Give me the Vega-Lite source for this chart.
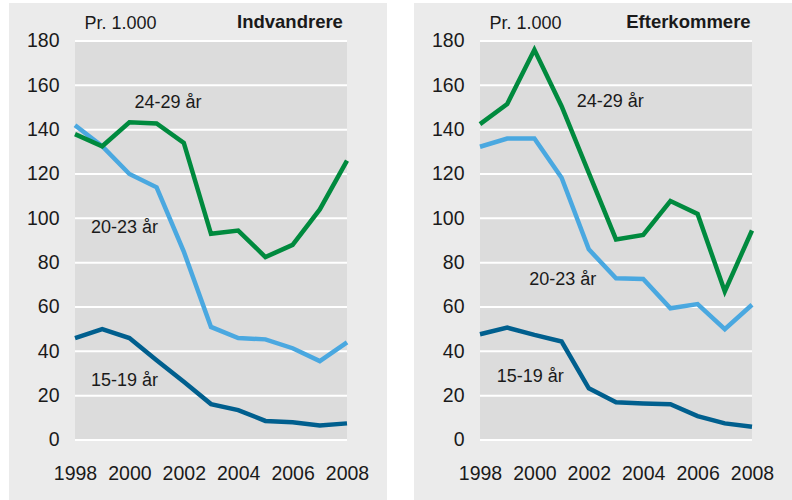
{
  "$schema": "https://vega.github.io/schema/vega-lite/v6.json",
  "background": "white",
  "padding": {"left": 9, "top": 3, "right": 0, "bottom": 0},
  "spacing": 27,
  "config": {
    "view": {"fill": "#ebebeb", "stroke": null},
    "font": "Liberation Sans",
    "text": {"color": "#1a1a1a"}
  },
  "datasets": {
    "gridlines": [
      {"value": 0}, {"value": 20}, {"value": 40}, {"value": 60}, {"value": 80},
      {"value": 100}, {"value": 120}, {"value": 140}, {"value": 160}, {"value": 180}
    ],
    "rates": [
      {"panel": "Indvandrere", "series": "15-19 år", "year": 1998, "value": 46},
      {"panel": "Indvandrere", "series": "15-19 år", "year": 1999, "value": 50},
      {"panel": "Indvandrere", "series": "15-19 år", "year": 2000, "value": 46},
      {"panel": "Indvandrere", "series": "15-19 år", "year": 2001, "value": 36},
      {"panel": "Indvandrere", "series": "15-19 år", "year": 2002, "value": 26.3},
      {"panel": "Indvandrere", "series": "15-19 år", "year": 2003, "value": 16.2},
      {"panel": "Indvandrere", "series": "15-19 år", "year": 2004, "value": 13.5},
      {"panel": "Indvandrere", "series": "15-19 år", "year": 2005, "value": 8.6},
      {"panel": "Indvandrere", "series": "15-19 år", "year": 2006, "value": 8},
      {"panel": "Indvandrere", "series": "15-19 år", "year": 2007, "value": 6.5},
      {"panel": "Indvandrere", "series": "15-19 år", "year": 2008, "value": 7.5},
      {"panel": "Indvandrere", "series": "20-23 år", "year": 1998, "value": 142},
      {"panel": "Indvandrere", "series": "20-23 år", "year": 1999, "value": 132.5},
      {"panel": "Indvandrere", "series": "20-23 år", "year": 2000, "value": 120},
      {"panel": "Indvandrere", "series": "20-23 år", "year": 2001, "value": 114},
      {"panel": "Indvandrere", "series": "20-23 år", "year": 2002, "value": 85},
      {"panel": "Indvandrere", "series": "20-23 år", "year": 2003, "value": 51},
      {"panel": "Indvandrere", "series": "20-23 år", "year": 2004, "value": 46},
      {"panel": "Indvandrere", "series": "20-23 år", "year": 2005, "value": 45.4},
      {"panel": "Indvandrere", "series": "20-23 år", "year": 2006, "value": 41.4},
      {"panel": "Indvandrere", "series": "20-23 år", "year": 2007, "value": 35.6},
      {"panel": "Indvandrere", "series": "20-23 år", "year": 2008, "value": 44},
      {"panel": "Indvandrere", "series": "24-29 år", "year": 1998, "value": 138},
      {"panel": "Indvandrere", "series": "24-29 år", "year": 1999, "value": 132.5},
      {"panel": "Indvandrere", "series": "24-29 år", "year": 2000, "value": 143.3},
      {"panel": "Indvandrere", "series": "24-29 år", "year": 2001, "value": 142.8},
      {"panel": "Indvandrere", "series": "24-29 år", "year": 2002, "value": 134},
      {"panel": "Indvandrere", "series": "24-29 år", "year": 2003, "value": 93},
      {"panel": "Indvandrere", "series": "24-29 år", "year": 2004, "value": 94.5},
      {"panel": "Indvandrere", "series": "24-29 år", "year": 2005, "value": 82.5},
      {"panel": "Indvandrere", "series": "24-29 år", "year": 2006, "value": 88},
      {"panel": "Indvandrere", "series": "24-29 år", "year": 2007, "value": 104},
      {"panel": "Indvandrere", "series": "24-29 år", "year": 2008, "value": 126},
      {"panel": "Efterkommere", "series": "15-19 år", "year": 1998, "value": 47.7},
      {"panel": "Efterkommere", "series": "15-19 år", "year": 1999, "value": 50.7},
      {"panel": "Efterkommere", "series": "15-19 år", "year": 2000, "value": 47.4},
      {"panel": "Efterkommere", "series": "15-19 år", "year": 2001, "value": 44.4},
      {"panel": "Efterkommere", "series": "15-19 år", "year": 2002, "value": 23.3},
      {"panel": "Efterkommere", "series": "15-19 år", "year": 2003, "value": 17},
      {"panel": "Efterkommere", "series": "15-19 år", "year": 2004, "value": 16.5},
      {"panel": "Efterkommere", "series": "15-19 år", "year": 2005, "value": 16.1},
      {"panel": "Efterkommere", "series": "15-19 år", "year": 2006, "value": 10.8},
      {"panel": "Efterkommere", "series": "15-19 år", "year": 2007, "value": 7.5},
      {"panel": "Efterkommere", "series": "15-19 år", "year": 2008, "value": 6},
      {"panel": "Efterkommere", "series": "20-23 år", "year": 1998, "value": 132.3},
      {"panel": "Efterkommere", "series": "20-23 år", "year": 1999, "value": 136},
      {"panel": "Efterkommere", "series": "20-23 år", "year": 2000, "value": 136},
      {"panel": "Efterkommere", "series": "20-23 år", "year": 2001, "value": 118.3},
      {"panel": "Efterkommere", "series": "20-23 år", "year": 2002, "value": 86},
      {"panel": "Efterkommere", "series": "20-23 år", "year": 2003, "value": 73},
      {"panel": "Efterkommere", "series": "20-23 år", "year": 2004, "value": 72.6},
      {"panel": "Efterkommere", "series": "20-23 år", "year": 2005, "value": 59.4},
      {"panel": "Efterkommere", "series": "20-23 år", "year": 2006, "value": 61.3},
      {"panel": "Efterkommere", "series": "20-23 år", "year": 2007, "value": 50},
      {"panel": "Efterkommere", "series": "20-23 år", "year": 2008, "value": 61},
      {"panel": "Efterkommere", "series": "24-29 år", "year": 1998, "value": 142.5},
      {"panel": "Efterkommere", "series": "24-29 år", "year": 1999, "value": 151.6},
      {"panel": "Efterkommere", "series": "24-29 år", "year": 2000, "value": 176},
      {"panel": "Efterkommere", "series": "24-29 år", "year": 2001, "value": 150.6},
      {"panel": "Efterkommere", "series": "24-29 år", "year": 2002, "value": 120.5},
      {"panel": "Efterkommere", "series": "24-29 år", "year": 2003, "value": 90.5},
      {"panel": "Efterkommere", "series": "24-29 år", "year": 2004, "value": 92.5},
      {"panel": "Efterkommere", "series": "24-29 år", "year": 2005, "value": 107.8},
      {"panel": "Efterkommere", "series": "24-29 år", "year": 2006, "value": 102},
      {"panel": "Efterkommere", "series": "24-29 år", "year": 2007, "value": 67},
      {"panel": "Efterkommere", "series": "24-29 år", "year": 2008, "value": 94.5}
    ],
    "labels": [
      {"panel": "Indvandrere", "label": "24-29 år", "x": 2001.42, "y": 152},
      {"panel": "Indvandrere", "label": "20-23 år", "x": 1999.82, "y": 95.6},
      {"panel": "Indvandrere", "label": "15-19 år", "x": 1999.82, "y": 26.8},
      {"panel": "Efterkommere", "label": "24-29 år", "x": 2002.79, "y": 152.6},
      {"panel": "Efterkommere", "label": "20-23 år", "x": 2001.04, "y": 72.2},
      {"panel": "Efterkommere", "label": "15-19 år", "x": 1999.85, "y": 28.6}
    ]
  },
  "hconcat": [
    {
      "width": 378,
      "height": 497,
      "layer": [
        {
          "data": {"values": [{}]},
          "mark": {"type": "rect", "fill": "#dcdcdc"},
          "encoding": {
            "x": {"datum": 1998, "type": "quantitative", "title": null,
              "scale": {"domain": [1995.5735, 2009.4706], "nice": false, "zero": false},
              "axis": {"values": [1998, 2000, 2002, 2004, 2006, 2008], "format": "d", "domain": false, "ticks": false, "tickSize": 0, "grid": false, "labelFont": "Liberation Sans", "labelFontSize": 19.5, "labelColor": "#1a1a1a", "labelPadding": 0, "offset": -36}},
            "x2": {"datum": 2008},
            "y": {"datum": 0, "type": "quantitative", "title": "Pr. 1.000",
              "scale": {"domain": [-27.07, 197.14], "nice": false, "zero": false},
              "axis": {"values": [0, 20, 40, 60, 80, 100, 120, 140, 160, 180], "domain": false, "ticks": false, "tickSize": 0, "grid": false, "labelFont": "Liberation Sans", "labelFontSize": 19.5, "labelColor": "#1a1a1a", "labelPadding": 0, "offset": -50, "titleAngle": 0, "titleAlign": "left", "titleBaseline": "alphabetic", "titleX": 25, "titleY": 25, "titleFont": "Liberation Sans", "titleFontSize": 18, "titleFontWeight": "normal", "titleColor": "#1a1a1a"}},
            "y2": {"datum": 180}
          }
        },
        {
          "data": {"name": "gridlines"},
          "mark": {"type": "rule", "color": "white", "strokeWidth": 2},
          "encoding": {
            "x": {"datum": 1998, "type": "quantitative", "title": null},
            "x2": {"datum": 2008},
            "y": {"field": "value", "type": "quantitative", "title": "Pr. 1.000"}
          }
        },
        {
          "data": {"name": "rates"},
          "transform": [{"filter": "datum.panel === 'Indvandrere'"}],
          "mark": {"type": "line", "strokeWidth": 4.5, "strokeJoin": "miter"},
          "encoding": {
            "x": {"field": "year", "type": "quantitative", "title": null},
            "y": {"field": "value", "type": "quantitative", "title": "Pr. 1.000"},
            "color": {"field": "series", "type": "nominal", "legend": null,
              "scale": {"domain": ["15-19 år", "20-23 år", "24-29 år"], "range": ["#005f8e", "#4aa8e0", "#008a3e"]}}
          }
        },
        {
          "data": {"name": "labels"},
          "transform": [{"filter": "datum.panel === 'Indvandrere'"}],
          "mark": {"type": "text", "font": "Liberation Sans", "fontSize": 18, "color": "#1a1a1a", "align": "center", "baseline": "middle"},
          "encoding": {
            "x": {"field": "x", "type": "quantitative", "title": null},
            "y": {"field": "y", "type": "quantitative", "title": "Pr. 1.000"},
            "text": {"field": "label"}
          }
        },
        {
          "data": {"values": [{}]},
          "mark": {"type": "text", "font": "Liberation Sans", "fontSize": 18.5, "fontWeight": "bold", "color": "#1a1a1a", "align": "right", "baseline": "alphabetic"},
          "encoding": {
            "x": {"datum": 2007.85, "type": "quantitative", "title": null},
            "y": {"datum": 185.7, "type": "quantitative", "title": "Pr. 1.000"},
            "text": {"value": "Indvandrere"}
          }
        }
      ]
    },
    {
      "width": 378,
      "height": 497,
      "layer": [
        {
          "data": {"values": [{}]},
          "mark": {"type": "rect", "fill": "#dcdcdc"},
          "encoding": {
            "x": {"datum": 1998, "type": "quantitative", "title": null,
              "scale": {"domain": [1995.5735, 2009.4706], "nice": false, "zero": false},
              "axis": {"values": [1998, 2000, 2002, 2004, 2006, 2008], "format": "d", "domain": false, "ticks": false, "tickSize": 0, "grid": false, "labelFont": "Liberation Sans", "labelFontSize": 19.5, "labelColor": "#1a1a1a", "labelPadding": 0, "offset": -36}},
            "x2": {"datum": 2008},
            "y": {"datum": 0, "type": "quantitative", "title": "Pr. 1.000",
              "scale": {"domain": [-27.07, 197.14], "nice": false, "zero": false},
              "axis": {"values": [0, 20, 40, 60, 80, 100, 120, 140, 160, 180], "domain": false, "ticks": false, "tickSize": 0, "grid": false, "labelFont": "Liberation Sans", "labelFontSize": 19.5, "labelColor": "#1a1a1a", "labelPadding": 0, "offset": -50, "titleAngle": 0, "titleAlign": "left", "titleBaseline": "alphabetic", "titleX": 25, "titleY": 25, "titleFont": "Liberation Sans", "titleFontSize": 18, "titleFontWeight": "normal", "titleColor": "#1a1a1a"}},
            "y2": {"datum": 180}
          }
        },
        {
          "data": {"name": "gridlines"},
          "mark": {"type": "rule", "color": "white", "strokeWidth": 2},
          "encoding": {
            "x": {"datum": 1998, "type": "quantitative", "title": null},
            "x2": {"datum": 2008},
            "y": {"field": "value", "type": "quantitative", "title": "Pr. 1.000"}
          }
        },
        {
          "data": {"name": "rates"},
          "transform": [{"filter": "datum.panel === 'Efterkommere'"}],
          "mark": {"type": "line", "strokeWidth": 4.5, "strokeJoin": "miter"},
          "encoding": {
            "x": {"field": "year", "type": "quantitative", "title": null},
            "y": {"field": "value", "type": "quantitative", "title": "Pr. 1.000"},
            "color": {"field": "series", "type": "nominal", "legend": null,
              "scale": {"domain": ["15-19 år", "20-23 år", "24-29 år"], "range": ["#005f8e", "#4aa8e0", "#008a3e"]}}
          }
        },
        {
          "data": {"name": "labels"},
          "transform": [{"filter": "datum.panel === 'Efterkommere'"}],
          "mark": {"type": "text", "font": "Liberation Sans", "fontSize": 18, "color": "#1a1a1a", "align": "center", "baseline": "middle"},
          "encoding": {
            "x": {"field": "x", "type": "quantitative", "title": null},
            "y": {"field": "y", "type": "quantitative", "title": "Pr. 1.000"},
            "text": {"field": "label"}
          }
        },
        {
          "data": {"values": [{}]},
          "mark": {"type": "text", "font": "Liberation Sans", "fontSize": 18.5, "fontWeight": "bold", "color": "#1a1a1a", "align": "right", "baseline": "alphabetic"},
          "encoding": {
            "x": {"datum": 2007.95, "type": "quantitative", "title": null},
            "y": {"datum": 185.7, "type": "quantitative", "title": "Pr. 1.000"},
            "text": {"value": "Efterkommere"}
          }
        }
      ]
    }
  ]
}
